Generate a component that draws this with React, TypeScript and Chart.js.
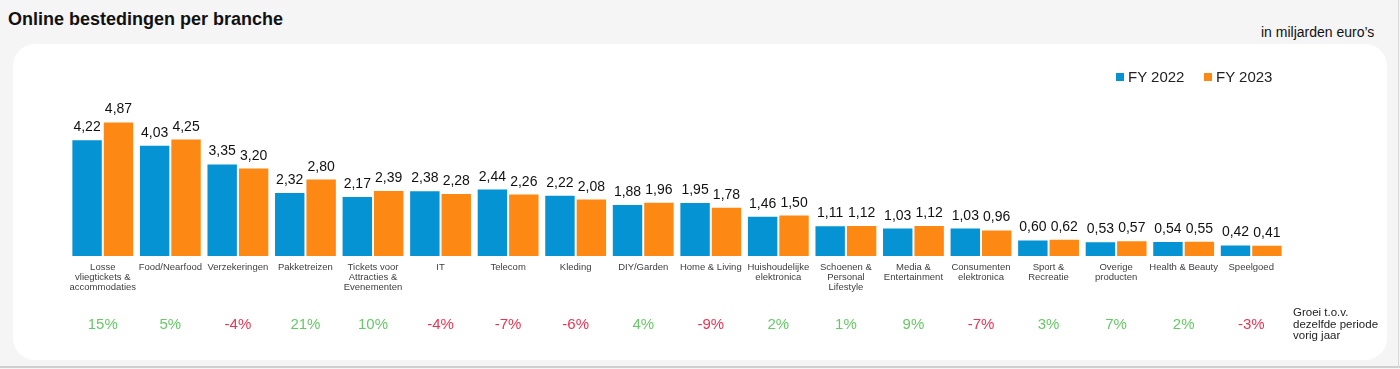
import React, { useEffect, useRef } from "react";
import { Chart, registerables } from "chart.js";

Chart.register(...registerables);

const categories: (string | string[])[] = [
  ["Losse", "vliegtickets &", "accommodaties"],
  "Food/Nearfood",
  "Verzekeringen",
  "Pakketreizen",
  ["Tickets voor", "Attracties &", "Evenementen"],
  "IT",
  "Telecom",
  "Kleding",
  "DIY/Garden",
  "Home & Living",
  ["Huishoudelijke", "elektronica"],
  ["Schoenen &", "Personal", "Lifestyle"],
  ["Media &", "Entertainment"],
  ["Consumenten", "elektronica"],
  ["Sport &", "Recreatie"],
  ["Overige", "producten"],
  "Health & Beauty",
  "Speelgoed",
];

const fy2022 = [4.22, 4.03, 3.35, 2.32, 2.17, 2.38, 2.44, 2.22, 1.88, 1.95, 1.46, 1.11, 1.03, 1.03, 0.6, 0.53, 0.54, 0.42];
const fy2023 = [4.87, 4.25, 3.2, 2.8, 2.39, 2.28, 2.26, 2.08, 1.96, 1.78, 1.5, 1.12, 1.12, 0.96, 0.62, 0.57, 0.55, 0.41];
const growth = [15, 5, -4, 21, 10, -4, -7, -6, 4, -9, 2, 1, 9, -7, 3, 7, 2, -3];

const seriesNames = ["FY 2022", "FY 2023"];
const BLUE = "#0593d3";
const ORANGE = "#fd8914";
const GREEN = "#66c966";
const RED = "#ee3352";
const FONT = "'Liberation Sans', Arial, sans-serif";

const labelPlugin = {
  id: "customLabels",
  afterDatasetsDraw(chart: any) {
    const ctx = chart.ctx;
    ctx.save();
    ctx.font = `14px ${FONT}`;
    ctx.fillStyle = "#111";
    ctx.textAlign = "center";
    ctx.textBaseline = "alphabetic";
    chart.data.datasets.forEach((ds: any, di: number) => {
      const meta = chart.getDatasetMeta(di);
      meta.data.forEach((el: any, i: number) => {
        const v = ds.data[i] as number;
        ctx.fillText(v.toFixed(2).replace(".", ","), el.x, el.y - 8);
      });
    });
    const xs = chart.scales.x;
    ctx.font = `15px ${FONT}`;
    growth.forEach((g, i) => {
      ctx.fillStyle = g >= 0 ? GREEN : RED;
      ctx.fillText(`${g}%`, xs.getPixelForValue(i), 329);
    });
    ctx.restore();
  },
};

export default function App() {
  const ref = useRef<HTMLCanvasElement>(null);
  useEffect(() => {
    if (!ref.current) return;
    const chart = new Chart(ref.current, {
      type: "bar",
      data: {
        labels: categories,
        datasets: [
          { label: seriesNames[0], data: fy2022, backgroundColor: BLUE, borderColor: "#ffffff", borderWidth: 1 },
          { label: seriesNames[1], data: fy2023, backgroundColor: ORANGE, borderColor: "#ffffff", borderWidth: 1 },
        ],
      },
      options: {
        animation: false,
        responsive: false,
        devicePixelRatio: 1,
        layout: { padding: { left: 69, right: 115, top: 104, bottom: 0 } },
        plugins: { legend: { display: false }, tooltip: { enabled: false } },
        datasets: { bar: { categoryPercentage: 0.93, barPercentage: 1 } },
        scales: {
          x: {
            grid: { display: false, drawTicks: false },
            border: { display: false },
            ticks: {
              autoSkip: false,
              maxRotation: 0,
              minRotation: 0,
              padding: 6,
              color: "#404040",
              font: { family: FONT, size: 9.5, lineHeight: 1.06 },
            },
            afterFit: (s: any) => {
              s.height = 113;
            },
          },
          y: { display: false, min: 0, max: 5.5 },
        },
      },
      plugins: [labelPlugin],
    });
    return () => chart.destroy();
  }, []);

  return (
    <div
      style={{
        position: "fixed",
        left: 0,
        top: 0,
        width: 1400,
        height: 369,
        background: "#f5f5f5",
        fontFamily: FONT,
        overflow: "hidden",
      }}
    >
      <div style={{ position: "absolute", left: 0, top: 366, width: 1400, height: 2, background: "#cfcfcf" }} />
      <div style={{ position: "absolute", left: 1398, top: 0, width: 1, height: 368, background: "#d8d8d8" }} />
      <div
        style={{
          position: "absolute",
          left: 13,
          top: 44,
          width: 1374,
          height: 316,
          background: "#ffffff",
          borderRadius: 22,
        }}
      />
      <div style={{ position: "absolute", left: 8, top: 9, fontSize: 18, fontWeight: "bold", color: "#111", whiteSpace: "nowrap" }}>
        Online bestedingen per branche
      </div>
      <div style={{ position: "absolute", left: 1261, top: 24, fontSize: 14, color: "#111", whiteSpace: "nowrap" }}>
        in miljarden euro’s
      </div>
      <canvas ref={ref} width={1400} height={369} style={{ position: "absolute", left: 0, top: 0, width: 1400, height: 369 }} />
      <div style={{ position: "absolute", left: 1116, top: 73, width: 8, height: 8, background: BLUE }} />
      <div style={{ position: "absolute", left: 1128, top: 68, fontSize: 15, color: "#222", whiteSpace: "nowrap" }}>{seriesNames[0]}</div>
      <div style={{ position: "absolute", left: 1204, top: 73, width: 8, height: 8, background: ORANGE }} />
      <div style={{ position: "absolute", left: 1216, top: 68, fontSize: 15, color: "#222", whiteSpace: "nowrap" }}>{seriesNames[1]}</div>
      <div style={{ position: "absolute", left: 1293, top: 307, fontSize: 11.5, lineHeight: "11.7px", color: "#222", whiteSpace: "nowrap" }}>
        Groei t.o.v.
        <br />
        dezelfde periode
        <br />
        vorig jaar
      </div>
    </div>
  );
}
